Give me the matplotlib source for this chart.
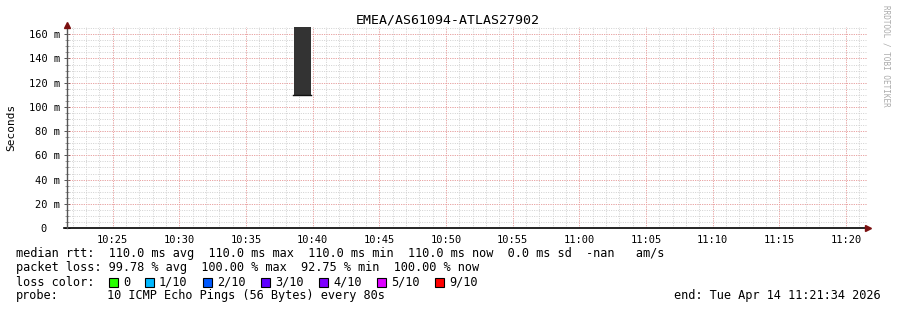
import numpy as np
import matplotlib.pyplot as plt
from matplotlib.patches import Rectangle

# data
title = "EMEA/AS61094-ATLAS27902"
start_time = "10:21:34"
end_time = "11:21:34"
tick_times = ["10:25", "10:30", "10:35", "10:40", "10:45", "10:50", "10:55",
              "11:00", "11:05", "11:10", "11:15", "11:20"]
y_ticks_ms = [0, 20, 40, 60, 80, 100, 120, 140, 160]
y_top_ms = 166
step_s = 80
bar_times = ["10:38:34"]
bar_median_ms = [110.0]

loss_labels = ["0", "1/10", "2/10", "3/10", "4/10", "5/10", "9/10"]
loss_colors = ["#26ff00", "#00b8ff", "#0059ff", "#5e00ff", "#7e00ff", "#dd00ff", "#ff0000"]

stats_rtt = "median rtt:  110.0 ms avg  110.0 ms max  110.0 ms min  110.0 ms now  0.0 ms sd  -nan   am/s"
stats_loss = "packet loss: 99.78 % avg  100.00 % max  92.75 % min  100.00 % now"
probe_text = "10 ICMP Echo Pings (56 Bytes) every 80s"
end_text = "end: Tue Apr 14 11:21:34 2026"


def to_min(s):
    parts = [int(p) for p in s.split(":")]
    while len(parts) < 3:
        parts.append(0)
    return parts[0] * 60 + parts[1] + parts[2] / 60.0


W, H = 897, 310
fig = plt.figure(figsize=(W / 100, H / 100), dpi=100)
fig.patch.set_facecolor("white")
mono = "DejaVu Sans Mono"

# plot area: x 67..867, y 27..228 (pixels from top)
ax = fig.add_axes([67 / W, (H - 228) / H, 800 / W, 201 / H])
x0, x1 = to_min(start_time), to_min(end_time)
ax.set_xlim(x0, x1)
ax.set_ylim(0, y_top_ms)

dot = (0, (1, 1.4))
# minor grid
for m in np.arange(np.ceil(x0), x1):
    ax.axvline(m, color="#d0d0d0", lw=0.7, ls=dot, zorder=1)
for v in np.arange(5, y_top_ms, 5):
    ax.axhline(v, color="#d0d0d0", lw=0.7, ls=dot, zorder=1)
# major grid
tick_pos = [to_min(t) for t in tick_times]
for m in tick_pos:
    ax.axvline(m, color="#f29c9c", lw=0.7, ls=dot, zorder=2)
for v in y_ticks_ms[1:]:
    ax.axhline(v, color="#f29c9c", lw=0.7, ls=dot, zorder=2)

# smoke bar and median
for t, med in zip(bar_times, bar_median_ms):
    bx = to_min(t)
    ax.bar(bx, y_top_ms - med, bottom=med, width=step_s / 60.0, align="edge",
           color="#333333", zorder=3, lw=0)
    ax.plot([bx - 0.08, bx + step_s / 60.0], [med, med], color="#111111", lw=1.0, zorder=4)

for s in ax.spines.values():
    s.set_visible(False)
ax.set_xticks(tick_pos)
ax.set_xticklabels(tick_times, fontfamily=mono, fontsize=7.5)
ax.tick_params(axis="x", length=0, pad=5)
ax.set_yticks(y_ticks_ms)
ax.set_yticklabels([("%d m" % v) if v else "0  " for v in y_ticks_ms], fontfamily=mono, fontsize=7.5)
ax.tick_params(axis="y", length=4, width=0.7, color="#555555", pad=3, direction="inout")
ax.set_yticks(np.arange(5, y_top_ms, 5), minor=True)
ax.tick_params(axis="y", which="minor", length=3, width=0.5, color="#777777", direction="inout")

fig.text(11 / W, 1 - 127 / H, "Seconds", rotation=90, ha="center", va="center",
         fontfamily=mono, fontsize=8)

# axes with arrows
ax.plot([x0 - 0.2, x1], [0, 0], color="black", lw=1.2, clip_on=False, zorder=5)
ax.plot([x0, x0], [0, y_top_ms], color="#555555", lw=1.0, clip_on=False, zorder=5)
ax.plot([x1 + 0.05], [0], marker=">", color="#7a1010", ms=4, clip_on=False, zorder=6)
ax.plot([x0], [y_top_ms + 1.5], marker="^", color="#7a1010", ms=4, clip_on=False, zorder=6)

fig.text(448 / W, 1 - 20 / H, title, ha="center", va="center", fontfamily=mono, fontsize=9.5)
fig.text(886 / W, 1 - 5 / H, "RRDTOOL / TOBI OETIKER", rotation=270, ha="center", va="top",
         fontfamily=mono, fontsize=5.5, color="#aaaaaa")


def ftext(px, py, s, **kw):
    fig.text(px / W, 1 - py / H, s, va="center", fontfamily=mono, fontsize=8.6, **kw)


ftext(16, 254, stats_rtt)
ftext(16, 268, stats_loss)
ftext(16, 282, "loss color:")
sw_x = [109, 145, 203, 261, 319, 377, 435]
for px, lab, col in zip(sw_x, loss_labels, loss_colors):
    fig.patches.append(Rectangle((px / W, 1 - 287 / H), 9 / W, 9 / H, transform=fig.transFigure,
                                 facecolor=col, edgecolor="black", lw=0.8))
    ftext(px + 14, 282, lab)
ftext(16, 296, "probe:")
ftext(107, 296, probe_text)
ftext(881, 296, end_text, ha="right")

fig.savefig("out.png", dpi=100)
